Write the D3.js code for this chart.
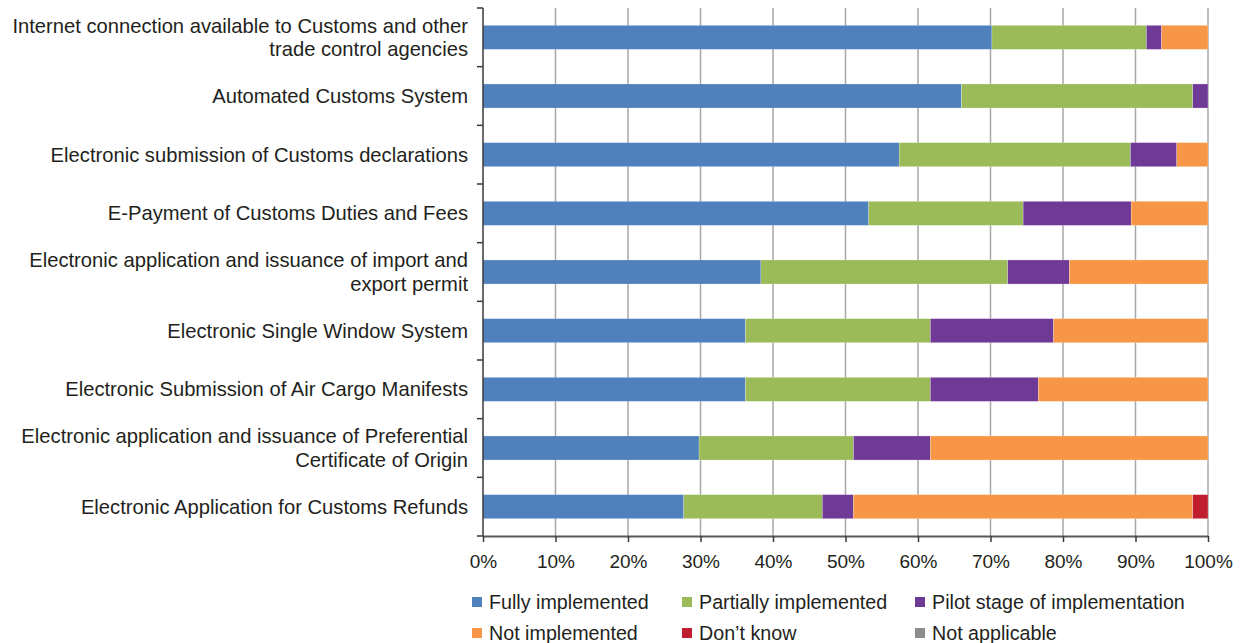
<!DOCTYPE html>
<html><head><meta charset="utf-8">
<script src="https://cdn.jsdelivr.net/npm/d3@7"></script>
<style>
html,body{margin:0;padding:0;background:#fff;}
svg{display:block;}
text{font-family:"Liberation Sans",Arial,sans-serif;fill:#231f20;}
</style></head>
<body>
<svg id="chart" width="1245" height="643"></svg>
<script>
const categories = [
  ["Internet connection available to Customs and other", "trade control agencies"],
  ["Automated Customs System"],
  ["Electronic submission of Customs declarations"],
  ["E-Payment of Customs Duties and Fees"],
  ["Electronic application and issuance of import and", "export permit"],
  ["Electronic Single Window System"],
  ["Electronic Submission of Air Cargo Manifests"],
  ["Electronic application and issuance of Preferential", "Certificate of Origin"],
  ["Electronic Application for Customs Refunds"]
];
const seriesNames = ["Fully implemented","Partially implemented","Pilot stage of implementation","Not implemented","Don\u2019t know","Not applicable"];
const fully        = [70.2, 66.0, 57.4, 53.2, 38.3, 36.2, 36.2, 29.8, 27.7];
const partially    = [21.3, 31.9, 31.9, 21.3, 34.0, 25.5, 25.5, 21.3, 19.1];
const pilot        = [ 2.1,  2.1,  6.4, 14.9,  8.5, 17.0, 14.9, 10.6,  4.3];
const notImpl      = [ 6.4,  0.0,  4.3, 10.6, 19.1, 21.3, 23.4, 38.3, 46.8];
const dontKnow     = [ 0.0,  0.0,  0.0,  0.0,  0.0,  0.0,  0.0,  0.0,  2.1];
const notApplicable= [ 0.0,  0.0,  0.0,  0.0,  0.0,  0.0,  0.0,  0.0,  0.0];
const tickValues = [0,0.1,0.2,0.3,0.4,0.5,0.6,0.7,0.8,0.9,1];
const colors = ["#4f81bd","#9bbb59","#6f3996","#f79646","#be1e2d","#8c8c8c"];

const seriesArrays = [fully, partially, pilot, notImpl, dontKnow, notApplicable];
const keys = seriesNames;
const rows = categories.map((c,i)=>{
  const r = {cat: c.join(" ")};
  keys.forEach((k,j)=> r[k] = seriesArrays[j][i]);
  return r;
});

const svg = d3.select("#chart");
const FS_CAT = 20.2, FS_TICK = 19, FS_LEG = 19.7;
const x = d3.scaleLinear().domain([0,1]).range([483,1208]);
const y = d3.scaleBand().domain(rows.map(r=>r.cat)).range([8,536]).paddingInner(0.59).paddingOuter(0.295);

// gridlines
svg.append("g").selectAll("line").data(tickValues.slice(1)).join("line")
  .attr("x1",d=>x(d)).attr("x2",d=>x(d)).attr("y1",8).attr("y2",536)
  .attr("stroke","#a6a6a6").attr("stroke-width",1.5);

// bars
const stack = d3.stack().keys(keys).offset(d3.stackOffsetExpand);
const stacked = stack(rows);
svg.append("g").selectAll("g").data(stacked).join("g")
  .attr("fill",(d,i)=>colors[i])
  .selectAll("rect").data(d=>d).join("rect")
  .attr("x",d=>x(d[0])).attr("width",d=>Math.max(0,x(d[1])-x(d[0])))
  .attr("y",d=>y(d.data.cat)).attr("height",y.bandwidth())
  .attr("stroke","#ffffff").attr("stroke-width",0.4).attr("stroke-opacity",0.6);

// left axis line + boundary ticks
const step = y.step();
const bounds = d3.range(rows.length+1).map(i=> y.range()[0] + i*step);
const la = svg.append("g");
la.append("line").attr("x1",483).attr("x2",483).attr("y1",8).attr("y2",536).attr("stroke","#3a3a3a").attr("stroke-width",1.5);
la.selectAll("line.t").data(bounds).join("line").attr("class","t")
  .attr("x1",477).attr("x2",483).attr("y1",d=>d).attr("y2",d=>d)
  .attr("stroke","#3a3a3a").attr("stroke-width",1.5);

// category labels
const lab = svg.append("g");
categories.forEach((lines,i)=>{
  const cy = y(rows[i].cat) + y.bandwidth()/2;
  const lh = 23.5;
  const t = lab.append("text").attr("text-anchor","end").attr("font-size",FS_CAT);
  lines.forEach((ln,j)=>{
    t.append("tspan").attr("x",468)
      .attr("y", cy + (j - (lines.length-1)/2)*lh)
      .attr("dy","0.35em").text(ln);
  });
});

// bottom axis
const xa = svg.append("g").attr("transform","translate(0,536)")
  .call(d3.axisBottom(x).tickValues(tickValues).tickFormat(d3.format(".0%")).tickSize(6).tickSizeOuter(0).tickPadding(13));
xa.select(".domain").attr("stroke","#595959").attr("stroke-width",2);
xa.selectAll(".tick line").attr("stroke","#3a3a3a").attr("stroke-width",1.5);
xa.selectAll(".tick text").attr("font-size",FS_TICK).attr("font-family","Liberation Sans, Arial, sans-serif").attr("fill","#231f20");

// legend
const legX = [472, 682, 915];
const legY = [602, 633];
const leg = svg.append("g");
seriesNames.forEach((n,i)=>{
  const lx = legX[i%3], ly = legY[Math.floor(i/3)];
  leg.append("rect").attr("x",lx).attr("y",ly-5).attr("width",10).attr("height",10).attr("fill",colors[i]);
  leg.append("text").attr("x",lx+17).attr("y",ly).attr("dy","0.35em").attr("font-size",FS_LEG).text(n);
});
</script>
</body></html>
